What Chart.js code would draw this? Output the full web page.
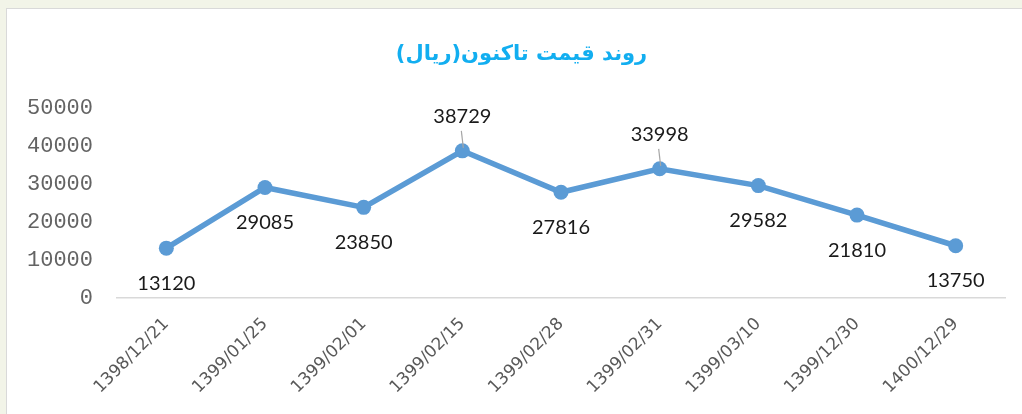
<!DOCTYPE html>
<html>
<head>
<meta charset="utf-8">
<script src="https://cdn.jsdelivr.net/npm/chart.js@4.4.1/dist/chart.umd.min.js"></script>
<style>
  html, body { margin: 0; padding: 0; }
  body { width: 1022px; height: 414px; overflow: hidden; background: #f2f4e8; position: relative; }
  .box { position: absolute; left: 6px; top: 8px; width: 1030px; height: 420px; background: #fff; border: 1px solid #d9d9d9; }
  canvas { position: absolute; left: 0; top: 0; }
</style>
</head>
<body>
<div class="box"><canvas id="priceChart" width="1015" height="405"></canvas></div>
<script>
(function () {
  'use strict';

  const categories = ['1398/12/21', '1399/01/25', '1399/02/01', '1399/02/15', '1399/02/28',
    '1399/02/31', '1399/03/10', '1399/12/30', '1400/12/29'];
  const prices = [13120, 29085, 23850, 38729, 27816, 33998, 29582, 21810, 13750];
  const labelSide = ['below', 'below', 'below', 'above', 'below', 'above', 'below', 'below', 'below'];
  const yTicks = [0, 10000, 20000, 30000, 40000, 50000];

  const LINE_COLOR = '#5b9bd5';
  const TITLE = 'روند قیمت تاکنون(ریال)';

  // title is centred on the whole box (not on the plot), so draw it ourselves
  const boxTitle = {
    id: 'boxTitle',
    afterDraw(chart) {
      const ctx = chart.ctx;
      ctx.save();
      ctx.direction = 'rtl';
      ctx.font = 'bold 21px "DejaVu Sans"';
      ctx.fillStyle = '#12aef0';
      ctx.textAlign = 'center';
      ctx.textBaseline = 'middle';
      ctx.fillText(TITLE, chart.width / 2 + 7, 46);
      ctx.restore();
    }
  };

  // value labels under / over each point, like the spreadsheet's data labels
  const pointLabels = {
    id: 'pointLabels',
    afterDatasetsDraw(chart) {
      const ctx = chart.ctx;
      const meta = chart.getDatasetMeta(0);
      ctx.save();
      ctx.font = '20px Lato';
      ctx.fillStyle = '#1a1a1a';
      ctx.textAlign = 'center';
      ctx.textBaseline = 'middle';
      meta.data.forEach((pt, i) => {
        const up = labelSide[i] === 'above';
        const y = up ? pt.y - 34 : pt.y + 35;
        ctx.fillText(String(prices[i]), pt.x, y);
        if (up) {
          ctx.strokeStyle = '#a6a6a6';
          ctx.lineWidth = 1.2;
          ctx.beginPath();
          ctx.moveTo(pt.x + 1, pt.y - 3);
          ctx.lineTo(pt.x - 1, y + 14);
          ctx.stroke();
        }
      });
      ctx.restore();
    }
  };

  new Chart(document.getElementById('priceChart'), {
    type: 'line',
    data: {
      labels: categories,
      datasets: [{
        data: prices,
        borderColor: LINE_COLOR,
        backgroundColor: LINE_COLOR,
        borderWidth: 5.5,
        pointRadius: 7.5,
        pointHoverRadius: 7.5,
        pointBorderWidth: 0,
        tension: 0,
      }],
    },
    options: {
      responsive: false,
      animation: false,
      layout: { padding: { left: 0, right: 17, top: 99, bottom: 0 } },
      plugins: {
        legend: { display: false },
        tooltip: { enabled: false },
        title: { display: false },
      },
      scales: {
        x: {
          offset: true,
          grid: { display: false },
          border: { display: true, color: '#d9d9d9', width: 1.5 },
          ticks: {
            autoSkip: false,
            minRotation: 45,
            maxRotation: 45,
            padding: 8,
            color: '#595959',
            font: { family: 'DejaVu Sans', size: 17 },
          },
          afterFit: s => { s.height = 116; },
        },
        y: {
          min: 0,
          max: 50000,
          grid: { display: false },
          border: { display: false },
          afterBuildTicks: s => { s.ticks = yTicks.map(v => ({ value: v })); },
          ticks: {
            padding: 16,
            color: '#636363',
            font: { family: 'Liberation Mono', size: 22 },
            callback: v => String(v),
          },
          afterFit: s => { s.width = 110; },
        },
      },
    },
    plugins: [pointLabels, boxTitle],
  });
})();
</script>
</body>
</html>
